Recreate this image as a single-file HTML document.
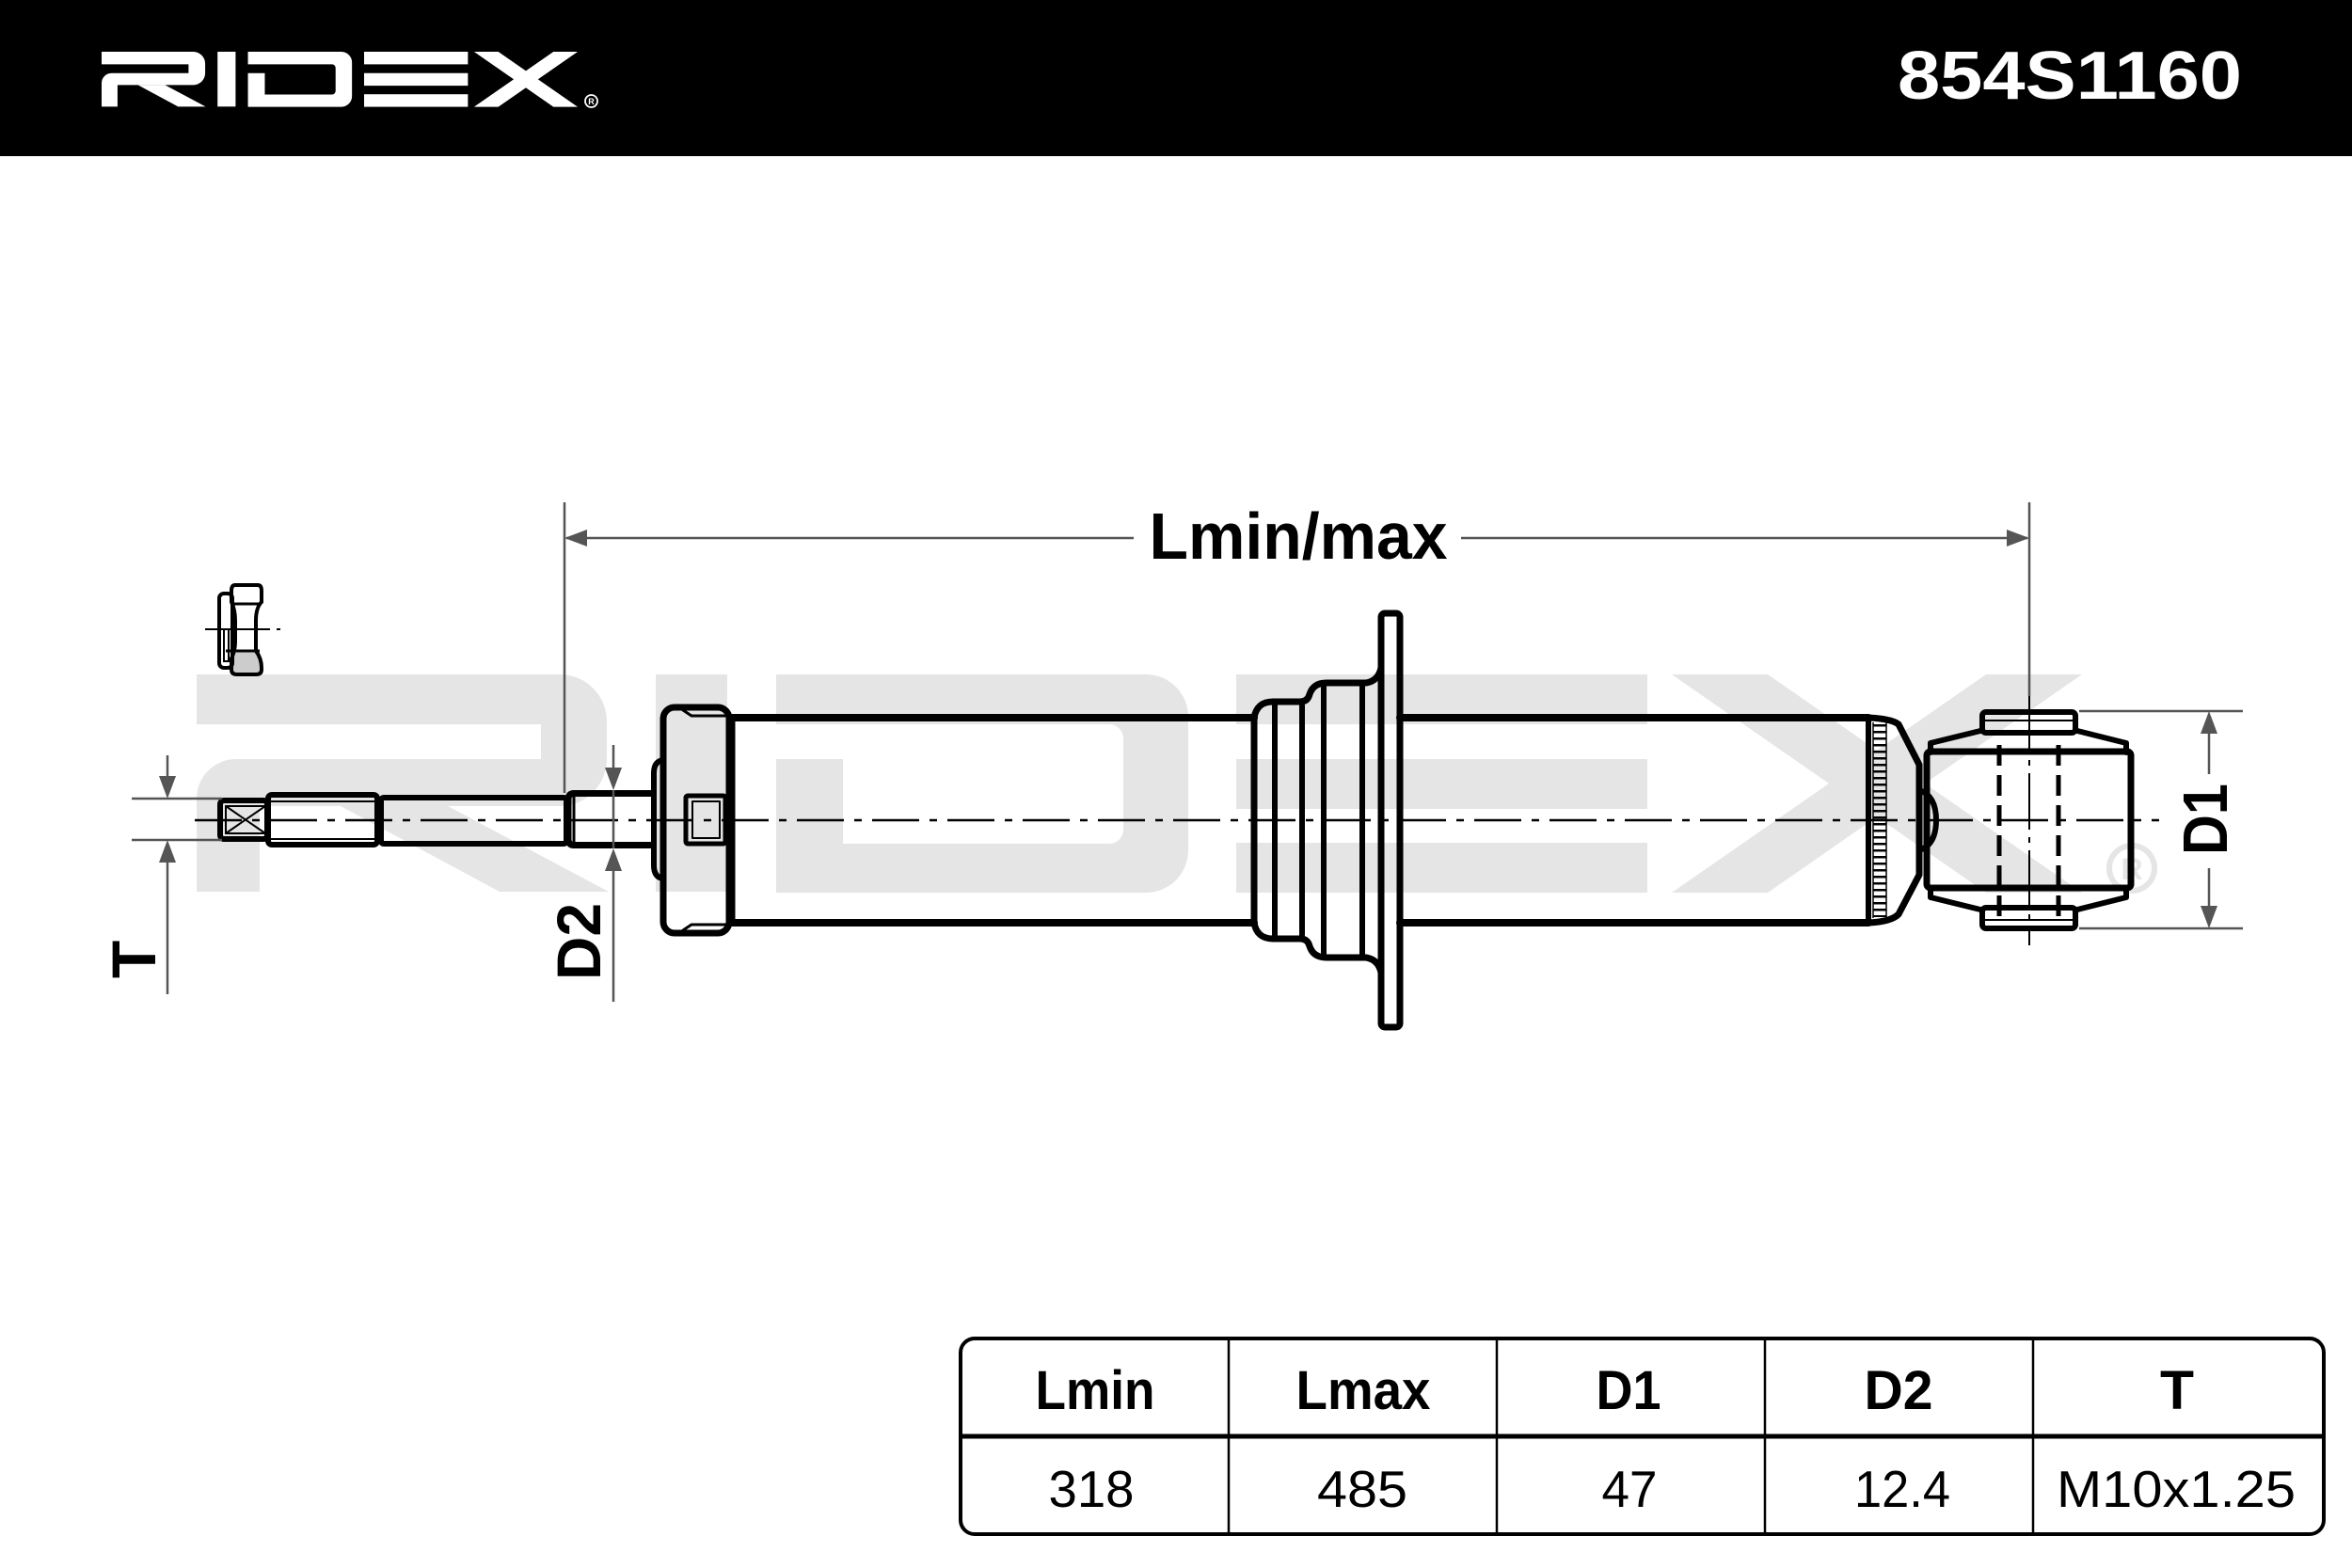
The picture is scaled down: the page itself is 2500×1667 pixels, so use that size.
<!DOCTYPE html>
<html>
<head>
<meta charset="utf-8">
<style>
  html,body{margin:0;padding:0;background:#fff;}
  svg{display:block;}
  text{font-family:"Liberation Sans", Arial, sans-serif;}
</style>
</head>
<body>
<svg width="2500" height="1667" viewBox="0 0 2500 1667" xmlns="http://www.w3.org/2000/svg">
  <rect x="0" y="0" width="2500" height="1667" fill="#fff"/>

  <!-- ===== Watermark logo ===== -->
  <g fill="#e5e5e5">
    <path d="M209,717 H595 A50,50 0 0 1 645,767 V807 A50,50 0 0 1 595,857 H276 V948 H209 V849 A42,42 0 0 1 251,807 H575 V770 H209 Z"/>
    <path d="M362,857 H476 L647,948 H531 Z"/>
    <rect x="697" y="717" width="76" height="231"/>
    <path d="M825,717 H1218 A45,45 0 0 1 1263,762 V904 A45,45 0 0 1 1218,949 H825 V807 H896 V897 H1179 A15,15 0 0 0 1194,882 V785 A15,15 0 0 0 1179,770 H825 Z"/>
    <rect x="1314" y="717" width="437" height="53"/>
    <rect x="1314" y="807" width="437" height="53"/>
    <rect x="1314" y="896" width="437" height="53"/>
    <path d="M1777,717 H1879 L2213,949 H2111 Z"/>
    <path d="M2111,717 H2213 L1879,949 H1777 Z"/>
  </g>
  <circle cx="2266" cy="923" r="24" fill="none" stroke="#e5e5e5" stroke-width="6"/>
  <text x="2266" y="935" font-size="32" font-weight="bold" fill="#e5e5e5" text-anchor="middle">R</text>

  <!-- ===== Header ===== -->
  <rect x="0" y="0" width="2500" height="166" fill="#000"/>
  <g fill="#fff" transform="translate(108,55) scale(0.2525) translate(-209,-717)">
    <path d="M209,717 H595 A50,50 0 0 1 645,767 V807 A50,50 0 0 1 595,857 H276 V948 H209 V849 A42,42 0 0 1 251,807 H575 V770 H209 Z"/>
    <path d="M362,857 H476 L647,948 H531 Z"/>
    <rect x="697" y="717" width="76" height="231"/>
    <path d="M825,717 H1218 A45,45 0 0 1 1263,762 V904 A45,45 0 0 1 1218,949 H825 V807 H896 V897 H1179 A15,15 0 0 0 1194,882 V785 A15,15 0 0 0 1179,770 H825 Z"/>
    <rect x="1314" y="717" width="437" height="53"/>
    <rect x="1314" y="807" width="437" height="53"/>
    <rect x="1314" y="896" width="437" height="53"/>
    <path d="M1777,717 H1879 L2213,949 H2111 Z"/>
    <path d="M2111,717 H2213 L1879,949 H1777 Z"/>
  </g>
  <circle cx="628.5" cy="107.5" r="6.5" fill="none" stroke="#fff" stroke-width="1.8"/>
  <text x="628.5" y="111" font-size="9" font-weight="bold" fill="#fff" text-anchor="middle">R</text>
  <text x="2017" y="105" font-size="72" font-weight="bold" fill="#fff" textLength="366" lengthAdjust="spacingAndGlyphs">854S1160</text>

  <!-- ===== Dimension: Lmin/max ===== -->
  <g stroke="#555" stroke-width="2.5" fill="none">
    <line x1="600" y1="534" x2="600" y2="843"/>
    <line x1="2157" y1="534" x2="2157" y2="740"/>
    <line x1="602" y1="572" x2="1205" y2="572"/>
    <line x1="1553" y1="572" x2="2155" y2="572"/>
  </g>
  <g fill="#555">
    <path d="M600,572 L624,563 L624,581 Z"/>
    <path d="M2157,572 L2133,563 L2133,581 Z"/>
  </g>
  <text x="1380" y="594" font-size="70" font-weight="bold" fill="#000" text-anchor="middle" textLength="317" lengthAdjust="spacingAndGlyphs">Lmin/max</text>

  <!-- ===== Centerline ===== -->
  <line x1="207" y1="872" x2="2295" y2="872" stroke="#000" stroke-width="2.5" stroke-dasharray="50 11 8 11"/>
  <line x1="2157" y1="740" x2="2157" y2="1005" stroke="#000" stroke-width="2" stroke-dasharray="60 8 6 8"/>

  <!-- ===== Nut icon ===== -->
  <g stroke="#000" fill="none">
    <rect x="248" y="693" width="28" height="22" fill="#cccccc" stroke="none"/>
    <rect x="233" y="631" width="14" height="79" rx="5" stroke-width="4"/>
    <rect x="238" y="669" width="5" height="34" stroke-width="2"/>
    <path d="M250,622 H274 Q278,622 278,628 V640 Q272,646 272,660 V692 Q278,700 278,710 V712 Q278,717 272,717 H252 Q246,717 246,712 V700 Q250,692 250,682 V660 Q250,648 246,640 V628 Q246,622 250,622 Z" stroke-width="4"/>
    <line x1="246" y1="642" x2="278" y2="642" stroke-width="3"/>
    <line x1="240" y1="692" x2="276" y2="692" stroke-width="3"/>
    <line x1="218" y1="669" x2="287" y2="669" stroke-width="2"/>
    <line x1="294" y1="669" x2="298" y2="669" stroke-width="2"/>
  </g>

  <!-- ===== Shock absorber drawing ===== -->
  <g stroke="#000" fill="none" stroke-linejoin="round" stroke-linecap="round">
    <!-- tip with cross -->
    <rect x="234" y="851" width="50" height="41" rx="4" stroke-width="6"/>
    <rect x="240" y="857" width="42" height="29" stroke-width="2"/>
    <line x1="240" y1="857" x2="282" y2="886" stroke-width="2"/>
    <line x1="240" y1="886" x2="282" y2="857" stroke-width="2"/>
    <!-- threaded section -->
    <rect x="285" y="845" width="116" height="53" rx="4" stroke-width="6"/>
    <line x1="288" y1="852" x2="398" y2="852" stroke-width="2"/>
    <line x1="288" y1="892" x2="398" y2="892" stroke-width="2"/>
    <!-- smooth rod -->
    <rect x="405" y="848" width="197" height="49" rx="3" stroke-width="6"/>
    <!-- D2 section -->
    <path d="M692,843.5 H610 Q604,843.5 604,850 V892 Q604,898.5 610,898.5 H692" stroke-width="7"/>
    <line x1="610" y1="846" x2="610" y2="896" stroke-width="3"/>
    <!-- small plate -->
    <path d="M704,808 Q695,810 695,822 V920 Q695,932 704,934" stroke-width="6"/>
    <!-- big top cap -->
    <rect x="705" y="752" width="70" height="240" rx="12" stroke-width="7"/>
    <path d="M726,755 L735,761 H772" stroke-width="3"/>
    <path d="M726,989 L735,983 H772" stroke-width="3"/>
    <rect x="729" y="846" width="42" height="51" rx="2" stroke-width="5"/>
    <rect x="736" y="852" width="29" height="39" stroke-width="2"/>
    <!-- tube left part -->
    <line x1="778" y1="763" x2="778" y2="981" stroke-width="7"/>
    <line x1="778" y1="763" x2="1333" y2="763" stroke-width="8"/>
    <line x1="778" y1="981" x2="1333" y2="981" stroke-width="8"/>
    <!-- spring seat -->
    <path d="M1333,981 V763 Q1336,746 1353,746 H1382 Q1390,746 1392,738 Q1396,726 1410,726 H1452 Q1465,724 1468,710" stroke-width="7"/>
    <path d="M1333,981 Q1336,998 1353,998 H1382 Q1390,998 1392,1006 Q1396,1018 1410,1018 H1452 Q1465,1020 1468,1034" stroke-width="7"/>
    <line x1="1355" y1="750" x2="1355" y2="994" stroke-width="6"/>
    <line x1="1384" y1="750" x2="1384" y2="994" stroke-width="6"/>
    <line x1="1407" y1="729" x2="1407" y2="1015" stroke-width="6"/>
    <line x1="1448" y1="729" x2="1448" y2="1015" stroke-width="6"/>
    <!-- flange -->
    <rect x="1468" y="652" width="20" height="440" rx="4" stroke-width="7"/>
    <!-- tube right part -->
    <line x1="1488" y1="763" x2="1986" y2="763" stroke-width="8"/>
    <line x1="1488" y1="981" x2="1986" y2="981" stroke-width="8"/>
    <line x1="1986" y1="763" x2="1986" y2="981" stroke-width="6"/>
    <!-- end cap -->
    <path d="M1986,763 Q2010,764 2018,770 L2040,813 V930 L2018,972 Q2010,980 1986,981" stroke-width="7"/>
    <path d="M2040,840 Q2058,846 2058,872 Q2058,898 2040,904" stroke-width="6"/>
    <!-- eye -->
    <rect x="2048" y="799" width="217" height="145" rx="4" stroke-width="7"/>
    <path d="M2052,800 V790 L2105,777 M2208,777 L2260,790 V800" stroke-width="6"/>
    <path d="M2052,944 V954 L2105,967 M2208,967 L2260,954 V944" stroke-width="6"/>
    <rect x="2107" y="757" width="99" height="22" rx="4" stroke-width="6"/>
    <line x1="2110" y1="766" x2="2203" y2="766" stroke-width="2"/>
    <rect x="2107" y="965" width="99" height="22" rx="4" stroke-width="6"/>
    <line x1="2110" y1="978" x2="2203" y2="978" stroke-width="2"/>
    <line x1="2125" y1="792" x2="2125" y2="976" stroke-width="5" stroke-dasharray="22 10" stroke-linecap="butt"/>
    <line x1="2188" y1="792" x2="2188" y2="976" stroke-width="5" stroke-dasharray="22 10" stroke-linecap="butt"/>
  </g>
  <!-- weld bead -->
  <line x1="1998" y1="770" x2="1998" y2="975" stroke="#000" stroke-width="13" stroke-dasharray="2.5 4.5"/>
  <line x1="1991" y1="768" x2="1991" y2="976" stroke="#000" stroke-width="1.5"/>
  <line x1="2005" y1="768" x2="2005" y2="976" stroke="#000" stroke-width="1.5"/>

  <!-- ===== Dimension: T ===== -->
  <g stroke="#555" stroke-width="2.5">
    <line x1="140" y1="849" x2="236" y2="849"/>
    <line x1="140" y1="893" x2="236" y2="893"/>
    <line x1="178" y1="803" x2="178" y2="830"/>
    <line x1="178" y1="912" x2="178" y2="1057"/>
  </g>
  <g fill="#555">
    <path d="M178,849 L169,825 L187,825 Z"/>
    <path d="M178,893 L169,917 L187,917 Z"/>
  </g>
  <text transform="translate(165,1020) rotate(-90)" font-size="66" font-weight="bold" fill="#000" text-anchor="middle">T</text>

  <!-- ===== Dimension: D2 ===== -->
  <g stroke="#555" stroke-width="2.5">
    <line x1="652" y1="792" x2="652" y2="822"/>
    <line x1="652" y1="920" x2="652" y2="1065"/>
  </g>
  <g fill="#555">
    <path d="M652,840 L643,816 L661,816 Z"/>
    <path d="M652,902 L643,926 L661,926 Z"/>
  </g>
  <line x1="652" y1="840" x2="652" y2="902" stroke="#555" stroke-width="2.5"/>
  <text transform="translate(638,1001) rotate(-90)" font-size="66" font-weight="bold" fill="#000" text-anchor="middle" textLength="82" lengthAdjust="spacingAndGlyphs">D2</text>

  <!-- ===== Dimension: D1 ===== -->
  <g stroke="#555" stroke-width="2.5">
    <line x1="2210" y1="756" x2="2384" y2="756"/>
    <line x1="2210" y1="987" x2="2384" y2="987"/>
    <line x1="2348" y1="775" x2="2348" y2="823"/>
    <line x1="2348" y1="923" x2="2348" y2="968"/>
  </g>
  <g fill="#555">
    <path d="M2348,756 L2339,780 L2357,780 Z"/>
    <path d="M2348,987 L2339,963 L2357,963 Z"/>
  </g>
  <text transform="translate(2367,871) rotate(-90)" font-size="67" font-weight="bold" fill="#000" text-anchor="middle" textLength="76" lengthAdjust="spacingAndGlyphs">D1</text>

  <!-- ===== Table ===== -->
  <rect x="1021" y="1423" width="1449" height="208" rx="15" fill="none" stroke="#000" stroke-width="4"/>
  <line x1="1021" y1="1527" x2="2470" y2="1527" stroke="#000" stroke-width="5"/>
  <g stroke="#000" stroke-width="2.5">
    <line x1="1306" y1="1423" x2="1306" y2="1631"/>
    <line x1="1591" y1="1423" x2="1591" y2="1631"/>
    <line x1="1876" y1="1423" x2="1876" y2="1631"/>
    <line x1="2161" y1="1423" x2="2161" y2="1631"/>
  </g>
  <g font-size="58" font-weight="bold" fill="#000" text-anchor="middle">
    <text x="1164" y="1498" textLength="127" lengthAdjust="spacingAndGlyphs">Lmin</text>
    <text x="1449" y="1498" textLength="143" lengthAdjust="spacingAndGlyphs">Lmax</text>
    <text x="1731" y="1498" textLength="69" lengthAdjust="spacingAndGlyphs">D1</text>
    <text x="2018" y="1498" textLength="73" lengthAdjust="spacingAndGlyphs">D2</text>
    <text x="2314" y="1498" textLength="36" lengthAdjust="spacingAndGlyphs">T</text>
  </g>
  <g font-size="55" fill="#000" text-anchor="middle">
    <text x="1160" y="1602" textLength="91" lengthAdjust="spacingAndGlyphs">318</text>
    <text x="1448" y="1602" textLength="96" lengthAdjust="spacingAndGlyphs">485</text>
    <text x="1732" y="1602" textLength="59" lengthAdjust="spacingAndGlyphs">47</text>
    <text x="2022" y="1602" textLength="102" lengthAdjust="spacingAndGlyphs">12.4</text>
    <text x="2313" y="1602" textLength="254" lengthAdjust="spacingAndGlyphs">M10x1.25</text>
  </g>
</svg>
</body>
</html>
